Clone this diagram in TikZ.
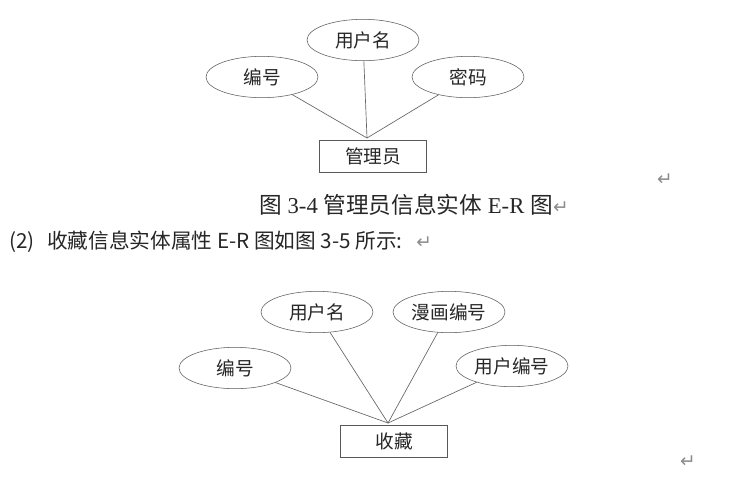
\documentclass[tikz,border=0pt]{standalone}
\usepackage{fontspec}
\usepackage{tikz}
\usetikzlibrary{shapes.geometric}
\setmainfont{Liberation Serif}
\newfontfamily\cjk{Noto Sans CJK SC}
\newfontfamily\symb{DejaVu Sans}

\begin{document}
\begin{tikzpicture}[
    x=0.75pt, y=-0.75pt,
    attr/.style={ellipse, draw=black!65, fill=white, minimum width=84pt, minimum height=31pt, inner sep=0pt, font=\cjk\fontsize{14}{16}\selectfont, text=black!85},
    box/.style={rectangle, draw=black!65, minimum width=80pt, minimum height=24pt, inner sep=0pt, font=\cjk\fontsize{14}{16}\selectfont, text=black!85},
    link/.style={draw=black!60, line width=0.5pt},
    retmark/.style={text=black!45, font=\symb\fontsize{14}{15}\selectfont, inner sep=0pt}
]
\useasboundingbox[fill=white] (0,0) rectangle (756,480);

% admin entity
\node[box] (admin) at (373,156) {管理员};
\coordinate (hubA) at (367,138);
\node[attr] (aid) at (262,77) {编号};
\node[attr] (aname) at (363,40) {用户名};
\node[attr] (apwd) at (468,77) {密码};

\draw[link] (aid) -- (hubA);
\draw[link] (aname) -- (hubA);
\draw[link] (apwd) -- (hubA);

% captions
\node[anchor=base, font=\fontsize{17}{20}\selectfont, text=black!85, inner sep=0pt] (capA) at (406,213)
  {{\cjk 图} 3-4 {\cjk 管理员信息实体} E-R {\cjk 图}};
\node[retmark, anchor=base west] (retA) at (capA.base east) {↵};
\node[retmark] (retB) at (665,180) {↵};
\node[anchor=base west, font=\cjk\fontsize{15.5}{18}\selectfont, text=black!85, inner sep=0pt] (lineB) at (9,248)
  {(2)\hspace{0.6em}收藏信息实体属性 E-R 图如图 3-5 所示:};
\node[retmark, anchor=base west] (retC) at ([xshift=10pt]lineB.base east) {↵};

% favourite entity
\node[box] (fav) at (394,441) {收藏};
\coordinate (hubB) at (388,423);
\node[attr] (fid) at (235,368) {编号};
\node[attr] (fname) at (317,312) {用户名};
\node[attr] (fcomic) at (449,312) {漫画编号};
\node[attr] (fuser) at (512,366) {用户编号};

\draw[link] (fid) -- (hubB);
\draw[link] (fname) -- (hubB);
\draw[link] (fcomic) -- (hubB);
\draw[link] (fuser) -- (hubB);

\node[retmark] (retD) at (688,462) {↵};
\end{tikzpicture}
\end{document}
